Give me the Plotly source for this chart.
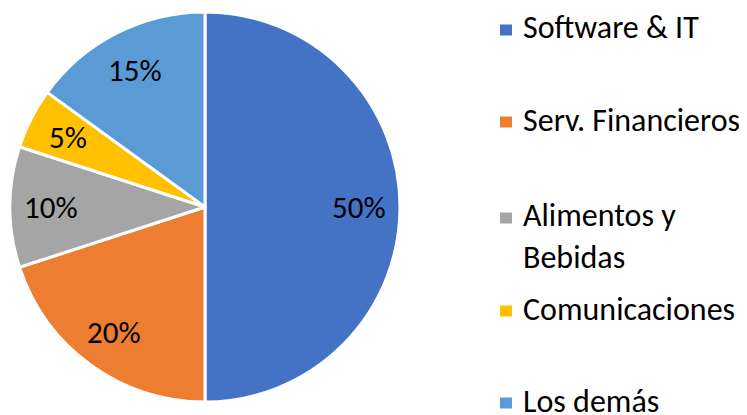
import math
import plotly.graph_objects as go

categories = ["Software & IT", "Serv. Financieros", "Alimentos y Bebidas", "Comunicaciones", "Los demás"]
legend_labels = ["Software & IT", "Serv. Financieros", "Alimentos y<br>Bebidas", "Comunicaciones", "Los demás"]
values = [50, 20, 10, 5, 15]
colors = ["#4472C4", "#ED7D31", "#A5A5A5", "#FFC000", "#5B9BD5"]

# page has an 8px body margin; figure covers the window from (8, 8)
W, H = 739, 407
FONT = "Calibri, Carlito, Lato, sans-serif"

# pie geometry in figure pixels
CX, CY, R = 197, 199, 195

fig = go.Figure()
fig.add_trace(go.Pie(
    labels=categories,
    values=values,
    sort=False,
    direction="clockwise",
    rotation=0,
    marker=dict(colors=colors, line=dict(color="white", width=3)),
    textinfo="none",
    domain=dict(x=[(CX - R) / W, (CX + R) / W], y=[1 - (CY + R) / H, 1 - (CY - R) / H]),
    showlegend=False,
    hoverinfo="label+percent",
))

annotations = []
# percentage labels at ~0.79 of the radius along each slice bisector
total = sum(values)
cum = 0.0
for v in values:
    mid = (cum + v / 2) / total * 2 * math.pi
    cum += v
    r = 0.79 * R
    px = CX + r * math.sin(mid)
    py = CY - r * math.cos(mid)
    annotations.append(dict(text=f"{round(v / total * 100)}%", xref="paper", yref="paper",
                            x=px / W, y=1 - py / H, xanchor="center", yanchor="middle",
                            showarrow=False, font=dict(family=FONT, size=31, color="#000000")))

# legend built from category list
marker_y = [22, 114, 210, 303, 395]
shapes = []
for lab, col, my in zip(legend_labels, colors, marker_y):
    shapes.append(dict(type="rect", xref="paper", yref="paper",
                       x0=492 / W, x1=504 / W, y0=1 - (my - 5.5) / H, y1=1 - (my + 5.5) / H,
                       fillcolor=col, line=dict(width=0)))
    nlines = lab.count("<br>") + 1
    cy = my - 2 + (nlines - 1) * 20
    annotations.append(dict(text=lab, xref="paper", yref="paper", x=513 / W, y=1 - cy / H,
                            xanchor="left", yanchor="middle", align="left", showarrow=False,
                            font=dict(family=FONT, size=32, color="#000000")))

fig.update_layout(
    width=W, height=H,
    margin=dict(l=0, r=0, t=0, b=0),
    paper_bgcolor="white", plot_bgcolor="white",
    annotations=annotations, shapes=shapes,
)

fig.write_html("out.html")
